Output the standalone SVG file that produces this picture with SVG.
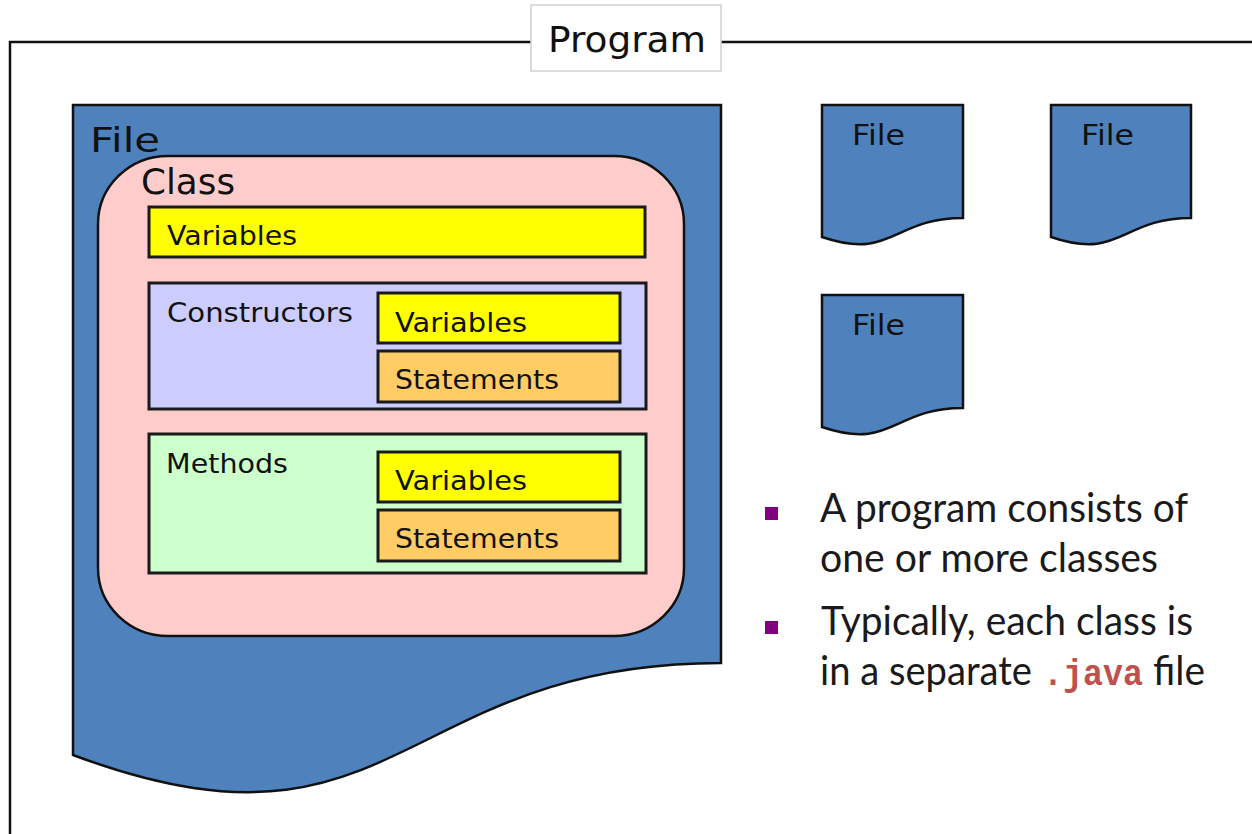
<svg xmlns="http://www.w3.org/2000/svg" width="1252" height="834" viewBox="0 0 1252 834">
<style>
.lbl{font-family:"DejaVu Sans",Verdana,sans-serif;fill:#111}
.doc{fill:#4F81BD;stroke:#111;stroke-width:2.5}
.box{stroke:#1a1a1a;stroke-width:3}
.blt{font-family:Lato,"Liberation Sans",sans-serif;font-size:40px;fill:#1a1a1a}
.mono{font-family:"Liberation Mono",monospace;font-size:36px;font-weight:bold;fill:#C0504D}
.sq{fill:#800080}
</style>
<rect width="1252" height="834" fill="#fff"/>
<g id="program">
<rect x="10" y="42" width="1262" height="820" fill="none" stroke="#111" stroke-width="2.5"/>
<rect x="531" y="5" width="190" height="66" fill="#fff" stroke="#d0d0d0" stroke-width="1.5"/>
<text class="lbl" x="548" y="52" font-size="36" textLength="158" lengthAdjust="spacingAndGlyphs">Program</text>
</g>
<g id="file-main">
<path class="doc" d="M73,105 H721 V663 C397,663 397,876 73,755 Z"/>
<text class="lbl" x="90" y="152" font-size="34" textLength="70" lengthAdjust="spacingAndGlyphs">File</text>
</g>
<g id="class">
<rect x="98" y="156" width="586" height="480" rx="70" ry="68" fill="#FFCCCC" stroke="#111" stroke-width="2.5"/>
<text class="lbl" x="141" y="194" font-size="36" textLength="94" lengthAdjust="spacingAndGlyphs">Class</text>
</g>
<g id="class-variables">
<rect class="box" x="149" y="207" width="496" height="50" fill="#FFFF00"/>
<text class="lbl" x="167" y="245" font-size="27" textLength="130" lengthAdjust="spacingAndGlyphs">Variables</text>
</g>
<g id="constructors">
<rect class="box" x="149" y="283" width="497" height="126" fill="#CCCCFF"/>
<text class="lbl" x="167" y="322" font-size="27" textLength="186" lengthAdjust="spacingAndGlyphs">Constructors</text>
</g>
<g id="constructors-variables">
<rect class="box" x="378" y="293" width="242" height="50" fill="#FFFF00"/>
<text class="lbl" x="395" y="332" font-size="27" textLength="132" lengthAdjust="spacingAndGlyphs">Variables</text>
</g>
<g id="constructors-statements">
<rect class="box" x="378" y="351" width="242" height="51" fill="#FFCC66"/>
<text class="lbl" x="395" y="389" font-size="27" textLength="164" lengthAdjust="spacingAndGlyphs">Statements</text>
</g>
<g id="methods">
<rect class="box" x="149" y="434" width="497" height="139" fill="#CCFFCC"/>
<text class="lbl" x="166" y="473" font-size="27" textLength="122" lengthAdjust="spacingAndGlyphs">Methods</text>
</g>
<g id="methods-variables">
<rect class="box" x="378" y="452" width="242" height="50" fill="#FFFF00"/>
<text class="lbl" x="395" y="490" font-size="27" textLength="132" lengthAdjust="spacingAndGlyphs">Variables</text>
</g>
<g id="methods-statements">
<rect class="box" x="378" y="510" width="242" height="51" fill="#FFCC66"/>
<text class="lbl" x="395" y="548" font-size="27" textLength="164" lengthAdjust="spacingAndGlyphs">Statements</text>
</g>
<g id="file-2">
<path class="doc" d="M822,105 H963 V218 C892.5,218 892.5,261 822,237 Z"/>
<text class="lbl" x="852" y="145" font-size="28" textLength="53" lengthAdjust="spacingAndGlyphs">File</text>
</g>
<g id="file-3">
<path class="doc" d="M1051,105 H1191 V218 C1121,218 1121,261 1051,237 Z"/>
<text class="lbl" x="1081" y="145" font-size="28" textLength="53" lengthAdjust="spacingAndGlyphs">File</text>
</g>
<g id="file-4">
<path class="doc" d="M822,295 H963 V408 C892.5,408 892.5,451 822,427 Z"/>
<text class="lbl" x="852" y="335" font-size="28" textLength="53" lengthAdjust="spacingAndGlyphs">File</text>
</g>
<g id="connectors"></g>
<g id="bullets">
<rect class="sq" x="765" y="507" width="13" height="13"/>
<text class="blt" x="820" y="522" textLength="368" lengthAdjust="spacingAndGlyphs">A program consists of</text>
<text class="blt" x="820" y="572" textLength="338" lengthAdjust="spacingAndGlyphs">one or more classes</text>
<rect class="sq" x="765" y="621" width="13" height="13"/>
<text class="blt" x="821" y="635" textLength="372" lengthAdjust="spacingAndGlyphs">Typically, each class is</text>
<text class="blt" x="820" y="685" textLength="212" lengthAdjust="spacingAndGlyphs">in a separate</text>
<text class="mono" x="1043" y="685" textLength="100" lengthAdjust="spacingAndGlyphs">.java</text>
<text class="blt" x="1153" y="685" textLength="52" lengthAdjust="spacingAndGlyphs">file</text>
</g>
</svg>
